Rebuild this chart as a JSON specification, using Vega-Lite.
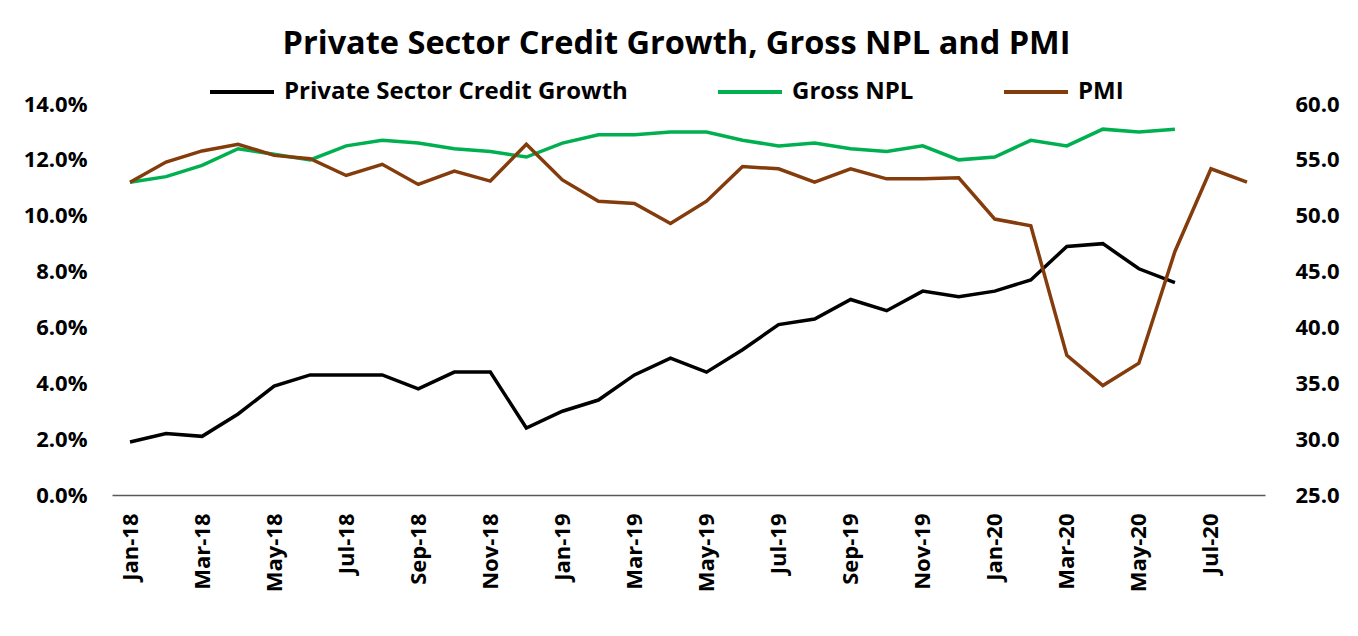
{
  "$schema": "https://vega.github.io/schema/vega-lite/v6.json",
  "width": 1153,
  "height": 391,
  "autosize": "none",
  "padding": {"left": 112, "top": 104, "right": 93, "bottom": 141},
  "background": "white",
  "config": {
    "view": {"stroke": null},
    "font": "Open Sans",
    "legend": {
      "orient": "none",
      "legendX": 96,
      "legendY": -46,
      "direction": "horizontal",
      "title": null,
      "symbolType": "stroke",
      "symbolSize": 4096,
      "symbolStrokeWidth": 4,
      "labelFont": "Open Sans",
      "labelFontSize": 24,
      "labelFontWeight": "bold",
      "labelColor": "#000000",
      "labelLimit": 500,
      "labelOffset": 8,
      "columnPadding": 82
    }
  },
  "title": {
    "text": "Private Sector Credit Growth, Gross NPL and PMI",
    "font": "Open Sans",
    "fontSize": 32.5,
    "fontWeight": "bold",
    "color": "#000000",
    "anchor": "middle",
    "dx": -12,
    "offset": -2
  },
  "data": {
    "values": [
      {"month": "Jan-18", "series": "Private Sector Credit Growth", "value": 1.9},
      {"month": "Feb-18", "series": "Private Sector Credit Growth", "value": 2.2},
      {"month": "Mar-18", "series": "Private Sector Credit Growth", "value": 2.1},
      {"month": "Apr-18", "series": "Private Sector Credit Growth", "value": 2.9},
      {"month": "May-18", "series": "Private Sector Credit Growth", "value": 3.9},
      {"month": "Jun-18", "series": "Private Sector Credit Growth", "value": 4.3},
      {"month": "Jul-18", "series": "Private Sector Credit Growth", "value": 4.3},
      {"month": "Aug-18", "series": "Private Sector Credit Growth", "value": 4.3},
      {"month": "Sep-18", "series": "Private Sector Credit Growth", "value": 3.8},
      {"month": "Oct-18", "series": "Private Sector Credit Growth", "value": 4.4},
      {"month": "Nov-18", "series": "Private Sector Credit Growth", "value": 4.4},
      {"month": "Dec-18", "series": "Private Sector Credit Growth", "value": 2.4},
      {"month": "Jan-19", "series": "Private Sector Credit Growth", "value": 3.0},
      {"month": "Feb-19", "series": "Private Sector Credit Growth", "value": 3.4},
      {"month": "Mar-19", "series": "Private Sector Credit Growth", "value": 4.3},
      {"month": "Apr-19", "series": "Private Sector Credit Growth", "value": 4.9},
      {"month": "May-19", "series": "Private Sector Credit Growth", "value": 4.4},
      {"month": "Jun-19", "series": "Private Sector Credit Growth", "value": 5.2},
      {"month": "Jul-19", "series": "Private Sector Credit Growth", "value": 6.1},
      {"month": "Aug-19", "series": "Private Sector Credit Growth", "value": 6.3},
      {"month": "Sep-19", "series": "Private Sector Credit Growth", "value": 7.0},
      {"month": "Oct-19", "series": "Private Sector Credit Growth", "value": 6.6},
      {"month": "Nov-19", "series": "Private Sector Credit Growth", "value": 7.3},
      {"month": "Dec-19", "series": "Private Sector Credit Growth", "value": 7.1},
      {"month": "Jan-20", "series": "Private Sector Credit Growth", "value": 7.3},
      {"month": "Feb-20", "series": "Private Sector Credit Growth", "value": 7.7},
      {"month": "Mar-20", "series": "Private Sector Credit Growth", "value": 8.9},
      {"month": "Apr-20", "series": "Private Sector Credit Growth", "value": 9.0},
      {"month": "May-20", "series": "Private Sector Credit Growth", "value": 8.1},
      {"month": "Jun-20", "series": "Private Sector Credit Growth", "value": 7.6},

      {"month": "Jan-18", "series": "Gross NPL", "value": 11.2},
      {"month": "Feb-18", "series": "Gross NPL", "value": 11.4},
      {"month": "Mar-18", "series": "Gross NPL", "value": 11.8},
      {"month": "Apr-18", "series": "Gross NPL", "value": 12.4},
      {"month": "May-18", "series": "Gross NPL", "value": 12.2},
      {"month": "Jun-18", "series": "Gross NPL", "value": 12.0},
      {"month": "Jul-18", "series": "Gross NPL", "value": 12.5},
      {"month": "Aug-18", "series": "Gross NPL", "value": 12.7},
      {"month": "Sep-18", "series": "Gross NPL", "value": 12.6},
      {"month": "Oct-18", "series": "Gross NPL", "value": 12.4},
      {"month": "Nov-18", "series": "Gross NPL", "value": 12.3},
      {"month": "Dec-18", "series": "Gross NPL", "value": 12.1},
      {"month": "Jan-19", "series": "Gross NPL", "value": 12.6},
      {"month": "Feb-19", "series": "Gross NPL", "value": 12.9},
      {"month": "Mar-19", "series": "Gross NPL", "value": 12.9},
      {"month": "Apr-19", "series": "Gross NPL", "value": 13.0},
      {"month": "May-19", "series": "Gross NPL", "value": 13.0},
      {"month": "Jun-19", "series": "Gross NPL", "value": 12.7},
      {"month": "Jul-19", "series": "Gross NPL", "value": 12.5},
      {"month": "Aug-19", "series": "Gross NPL", "value": 12.6},
      {"month": "Sep-19", "series": "Gross NPL", "value": 12.4},
      {"month": "Oct-19", "series": "Gross NPL", "value": 12.3},
      {"month": "Nov-19", "series": "Gross NPL", "value": 12.5},
      {"month": "Dec-19", "series": "Gross NPL", "value": 12.0},
      {"month": "Jan-20", "series": "Gross NPL", "value": 12.1},
      {"month": "Feb-20", "series": "Gross NPL", "value": 12.7},
      {"month": "Mar-20", "series": "Gross NPL", "value": 12.5},
      {"month": "Apr-20", "series": "Gross NPL", "value": 13.1},
      {"month": "May-20", "series": "Gross NPL", "value": 13.0},
      {"month": "Jun-20", "series": "Gross NPL", "value": 13.1},

      {"month": "Jan-18", "series": "PMI", "value": 53.0},
      {"month": "Feb-18", "series": "PMI", "value": 54.8},
      {"month": "Mar-18", "series": "PMI", "value": 55.8},
      {"month": "Apr-18", "series": "PMI", "value": 56.4},
      {"month": "May-18", "series": "PMI", "value": 55.4},
      {"month": "Jun-18", "series": "PMI", "value": 55.1},
      {"month": "Jul-18", "series": "PMI", "value": 53.6},
      {"month": "Aug-18", "series": "PMI", "value": 54.6},
      {"month": "Sep-18", "series": "PMI", "value": 52.8},
      {"month": "Oct-18", "series": "PMI", "value": 54.0},
      {"month": "Nov-18", "series": "PMI", "value": 53.1},
      {"month": "Dec-18", "series": "PMI", "value": 56.4},
      {"month": "Jan-19", "series": "PMI", "value": 53.2},
      {"month": "Feb-19", "series": "PMI", "value": 51.3},
      {"month": "Mar-19", "series": "PMI", "value": 51.1},
      {"month": "Apr-19", "series": "PMI", "value": 49.3},
      {"month": "May-19", "series": "PMI", "value": 51.3},
      {"month": "Jun-19", "series": "PMI", "value": 54.4},
      {"month": "Jul-19", "series": "PMI", "value": 54.2},
      {"month": "Aug-19", "series": "PMI", "value": 53.0},
      {"month": "Sep-19", "series": "PMI", "value": 54.2},
      {"month": "Oct-19", "series": "PMI", "value": 53.3},
      {"month": "Nov-19", "series": "PMI", "value": 53.3},
      {"month": "Dec-19", "series": "PMI", "value": 53.4},
      {"month": "Jan-20", "series": "PMI", "value": 49.7},
      {"month": "Feb-20", "series": "PMI", "value": 49.1},
      {"month": "Mar-20", "series": "PMI", "value": 37.5},
      {"month": "Apr-20", "series": "PMI", "value": 34.8},
      {"month": "May-20", "series": "PMI", "value": 36.8},
      {"month": "Jun-20", "series": "PMI", "value": 46.8},
      {"month": "Jul-20", "series": "PMI", "value": 54.2},
      {"month": "Aug-20", "series": "PMI", "value": 53.0}
    ]
  },
  "encoding": {
    "x": {
      "field": "month",
      "type": "ordinal",
      "title": null,
      "scale": {
        "type": "point",
        "padding": 0.5,
        "domain": ["Jan-18", "Feb-18", "Mar-18", "Apr-18", "May-18", "Jun-18", "Jul-18", "Aug-18", "Sep-18", "Oct-18", "Nov-18", "Dec-18",
                   "Jan-19", "Feb-19", "Mar-19", "Apr-19", "May-19", "Jun-19", "Jul-19", "Aug-19", "Sep-19", "Oct-19", "Nov-19", "Dec-19",
                   "Jan-20", "Feb-20", "Mar-20", "Apr-20", "May-20", "Jun-20", "Jul-20", "Aug-20"]
      },
      "axis": {
        "values": ["Jan-18", "Mar-18", "May-18", "Jul-18", "Sep-18", "Nov-18", "Jan-19", "Mar-19", "May-19", "Jul-19", "Sep-19", "Nov-19", "Jan-20", "Mar-20", "May-20", "Jul-20"],
        "labelAngle": -90,
        "labelFont": "Open Sans",
        "labelFontSize": 22,
        "labelFontWeight": "bold",
        "labelColor": "#000000",
        "labelPadding": 18,
        "ticks": false,
        "domainColor": "#595959",
        "domainWidth": 1.5,
        "grid": false
      }
    },
    "color": {
      "field": "series",
      "type": "nominal",
      "scale": {
        "domain": ["Private Sector Credit Growth", "Gross NPL", "PMI"],
        "range": ["#000000", "#00B050", "#843C0C"]
      }
    }
  },
  "layer": [
    {
      "transform": [{"filter": "datum.series !== 'PMI'"}],
      "mark": {"type": "line", "strokeWidth": 3.5, "strokeJoin": "miter"},
      "encoding": {
        "y": {
          "field": "value",
          "type": "quantitative",
          "title": null,
          "scale": {"domain": [0, 14], "nice": false, "zero": false},
          "axis": {
            "orient": "left",
            "values": [0, 2, 4, 6, 8, 10, 12, 14],
            "labelExpr": "format(datum.value, '.1f') + '%'",
            "labelFont": "Open Sans",
            "labelFontSize": 22,
            "labelFontWeight": "bold",
            "labelColor": "#000000",
            "labelPadding": 25,
            "ticks": false,
            "domain": false,
            "grid": false
          }
        }
      }
    },
    {
      "transform": [{"filter": "datum.series === 'PMI'"}],
      "mark": {"type": "line", "strokeWidth": 3.5, "strokeJoin": "miter"},
      "encoding": {
        "y": {
          "field": "value",
          "type": "quantitative",
          "title": null,
          "scale": {"domain": [25, 60], "nice": false, "zero": false},
          "axis": {
            "orient": "right",
            "values": [25, 30, 35, 40, 45, 50, 55, 60],
            "format": ".1f",
            "labelFont": "Open Sans",
            "labelFontSize": 22,
            "labelFontWeight": "bold",
            "labelColor": "#000000",
            "labelPadding": 30,
            "ticks": false,
            "domain": false,
            "grid": false
          }
        }
      }
    }
  ],
  "resolve": {"scale": {"y": "independent"}}
}
